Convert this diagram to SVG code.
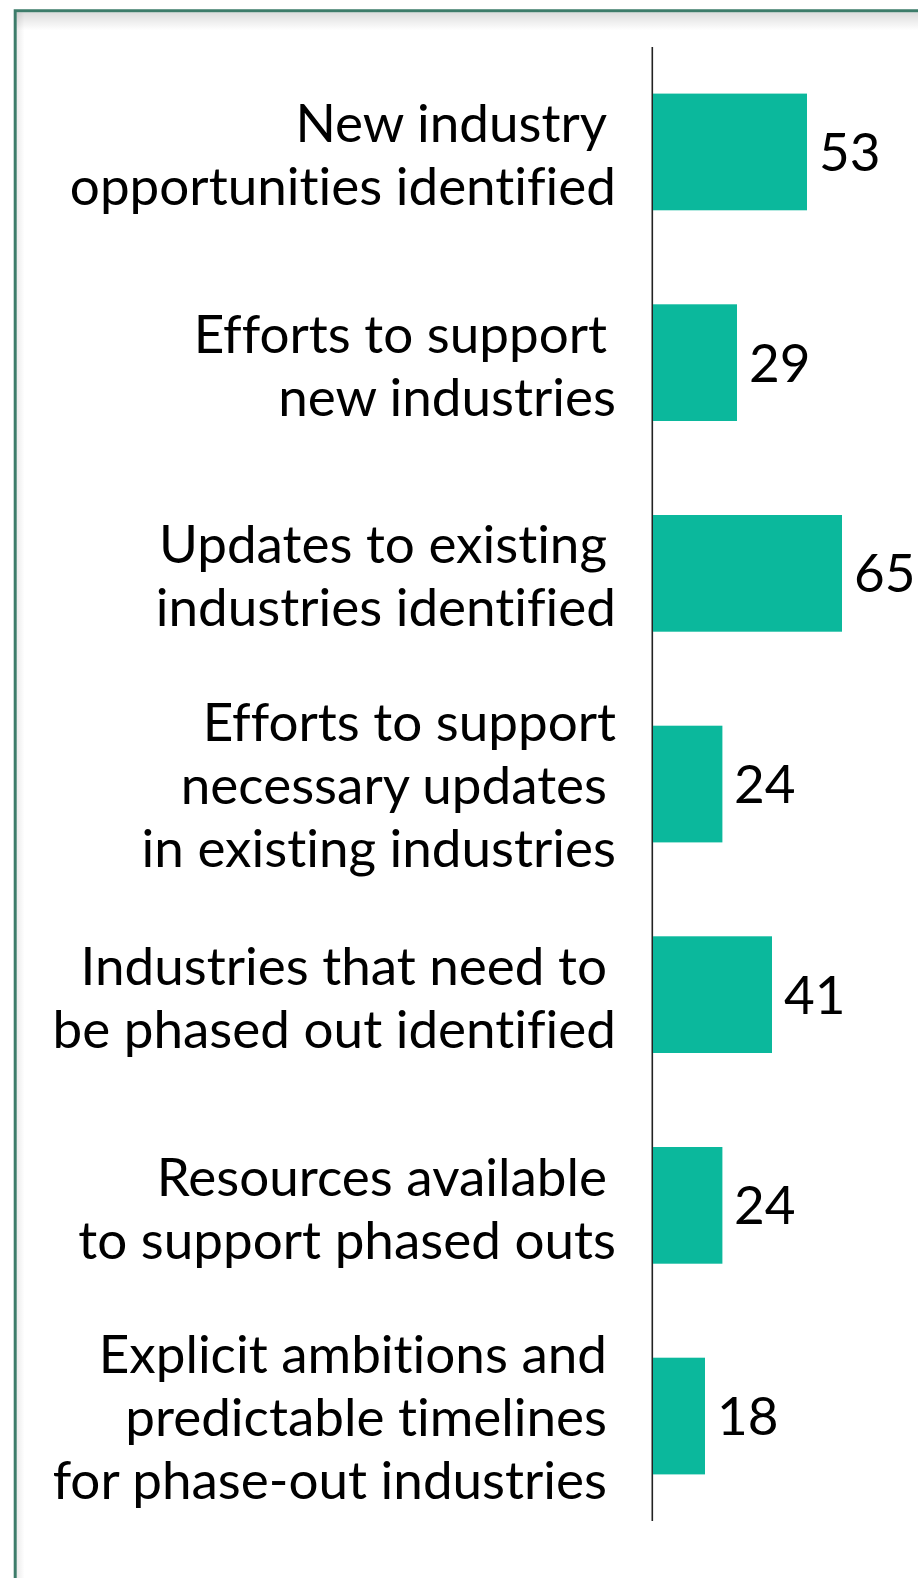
<svg xmlns="http://www.w3.org/2000/svg" width="918" height="1578" viewBox="0 0 918 1578">
<defs>
<linearGradient id="shTop" x1="0" y1="0" x2="0" y2="1">
<stop offset="0" stop-color="#000" stop-opacity="0.14"/>
<stop offset="1" stop-color="#000" stop-opacity="0"/>
</linearGradient>
<linearGradient id="shLeft" x1="0" y1="0" x2="1" y2="0">
<stop offset="0" stop-color="#000" stop-opacity="0.08"/>
<stop offset="1" stop-color="#000" stop-opacity="0"/>
</linearGradient>
<style>
.lbl{font-family:Lato,"Liberation Sans",sans-serif;font-size:53px;fill:#000;text-anchor:end;font-variant-ligatures:none;font-feature-settings:"liga" 0,"clig" 0}
.val{font-family:Lato,"Liberation Sans",sans-serif;font-size:53px;fill:#000}
.bar{fill:#0bb89c}
</style>
</defs>
<rect x="0" y="0" width="918" height="1578" fill="#fff"/>
<g id="frame">
<rect x="16.5" y="12.3" width="901.5" height="18" fill="url(#shTop)"/>
<rect x="16.5" y="12.3" width="8" height="1565.7" fill="url(#shLeft)"/>
<path d="M15.2,1578 V10.7 H918" fill="none" stroke="#3d7c6a" stroke-width="3"/>
</g>
<g id="axis">
<line x1="652.3" y1="47" x2="652.3" y2="1521" stroke="#222" stroke-width="1.6"/>
</g>
<g id="bar1">
<rect class="bar" x="653" y="93.6" width="154" height="116.7"/>
<text class="lbl" x="607" y="142">New industry</text>
<text class="lbl" x="616" y="205">opportunities identified</text>
<text class="val" x="819" y="171">53</text>
</g>
<g id="bar2">
<rect class="bar" x="653" y="304.3" width="84" height="116.7"/>
<text class="lbl" x="607" y="353">Efforts to support</text>
<text class="lbl" x="616" y="416">new industries</text>
<text class="val" x="749" y="382">29</text>
</g>
<g id="bar3">
<rect class="bar" x="653" y="515" width="189" height="116.7"/>
<text class="lbl" x="607" y="563">Updates to existing</text>
<text class="lbl" x="616" y="626">industries identified</text>
<text class="val" x="854" y="592">65</text>
</g>
<g id="bar4">
<rect class="bar" x="653" y="725.7" width="69.4" height="116.7"/>
<text class="lbl" x="616" y="741">Efforts to support</text>
<text class="lbl" x="607" y="804">necessary updates</text>
<text class="lbl" x="616" y="867">in existing industries</text>
<text class="val" x="734" y="803">24</text>
</g>
<g id="bar5">
<rect class="bar" x="653" y="936.3" width="119" height="116.7"/>
<text class="lbl" x="607" y="985">Industries that need to</text>
<text class="lbl" x="616" y="1048">be phased out identified</text>
<text class="val" x="784" y="1014">41</text>
</g>
<g id="bar6">
<rect class="bar" x="653" y="1147" width="69.4" height="116.7"/>
<text class="lbl" x="607" y="1196">Resources available</text>
<text class="lbl" x="616" y="1259">to support phased outs</text>
<text class="val" x="734" y="1224">24</text>
</g>
<g id="bar7">
<rect class="bar" x="653" y="1357.7" width="52" height="116.7"/>
<text class="lbl" x="607" y="1373">Explicit ambitions and</text>
<text class="lbl" x="607" y="1436">predictable timelines</text>
<text class="lbl" x="607" y="1499">for phase-out industries</text>
<text class="val" x="717" y="1435">18</text>
</g>
</svg>
